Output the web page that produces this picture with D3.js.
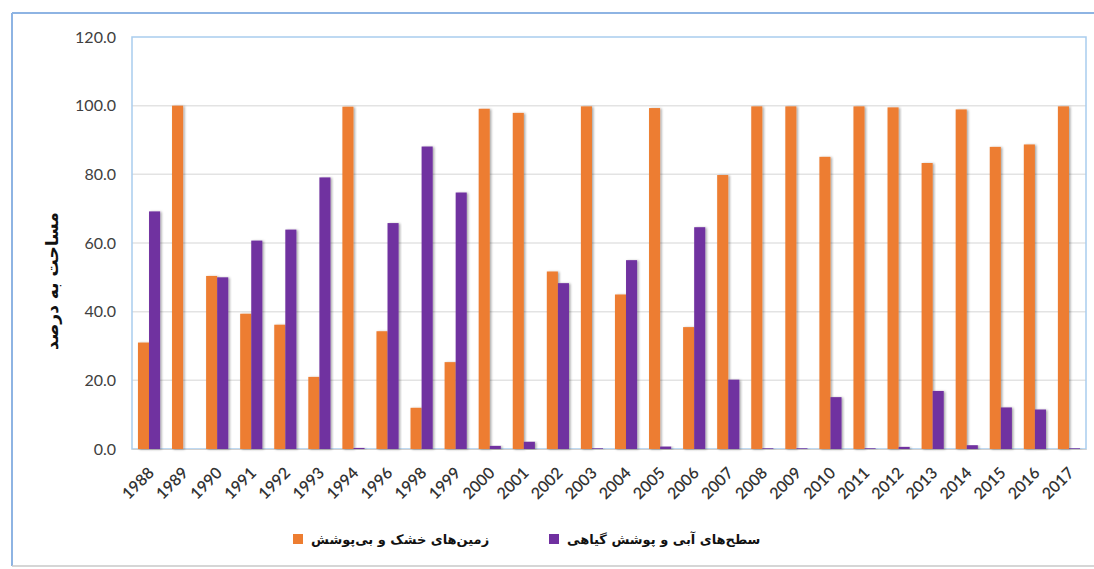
<!DOCTYPE html>
<html>
<head>
<meta charset="utf-8">
<script src="https://cdn.jsdelivr.net/npm/d3@7"></script>
<style>
  body { margin: 0; background: #fff; }
  svg { display: block; }
</style>
</head>
<body>
<div id="chart"></div>
<script>
// years on the x axis (1995 and 1997 are missing in the source)
const years = ["1988","1989","1990","1991","1992","1993","1994","1996","1998","1999",
  "2000","2001","2002","2003","2004","2005","2006","2007","2008","2009",
  "2010","2011","2012","2013","2014","2015","2016","2017"];

// dry and bare land (%)
const dryLand = [31, 100, 50.4, 39.4, 36.2, 21, 99.7, 34.3, 12, 25.3,
  99.1, 97.9, 51.7, 99.8, 45, 99.3, 35.5, 79.8, 99.8, 99.8,
  85.1, 99.8, 99.5, 83.3, 98.9, 88, 88.7, 99.8];

// water and vegetation (%)
const waterVeg = [69.2, 0, 50, 60.7, 63.9, 79.1, 0.3, 65.8, 88.1, 74.7,
  0.9, 2.1, 48.3, 0.2, 55, 0.7, 64.6, 20.2, 0.2, 0.2,
  15.1, 0.2, 0.6, 16.9, 1.1, 12.1, 11.5, 0.2];

const seriesNames = ["زمین‌های خشک و بی‌پوشش", "سطح‌های آبی و پوشش گیاهی"];
const seriesColors = ["#ED7D31", "#7030A0"];
const yTicks = [0, 20, 40, 60, 80, 100, 120];

const W = 1094, H = 569;
const plot = {left: 132, right: 1086, top: 37, bottom: 449};

const svg = d3.select("#chart").append("svg")
    .attr("width", W)
    .attr("height", H);

const defs = svg.append("defs");
defs.append("filter").attr("id", "shadow")
    .attr("x", "-30%").attr("y", "-5%").attr("width", "160%").attr("height", "110%")
  .append("feDropShadow")
    .attr("dx", 1.5).attr("dy", 0.5)
    .attr("stdDeviation", 1)
    .attr("flood-color", "#000")
    .attr("flood-opacity", 0.35);

// outer chart frame
svg.append("line").attr("x1", 12).attr("x2", W).attr("y1", 13).attr("y2", 13)
    .attr("stroke", "#8eb4e3").attr("stroke-width", 2);
svg.append("line").attr("x1", 12).attr("x2", 12).attr("y1", 13).attr("y2", 566)
    .attr("stroke", "#8eb4e3").attr("stroke-width", 2);
svg.append("line").attr("x1", 12).attr("x2", W).attr("y1", 566).attr("y2", 566)
    .attr("stroke", "#c8c8c8").attr("stroke-width", 1.5);

const x = d3.scaleBand()
    .domain(years)
    .range([plot.left, plot.right])
    .paddingInner(0.35)
    .paddingOuter(0.175);

const xs = d3.scaleBand()
    .domain([0, 1])
    .range([0, x.bandwidth()]);

const y = d3.scaleLinear()
    .domain([0, 120])
    .range([plot.bottom, plot.top]);

// gridlines
svg.append("g")
  .selectAll("line")
  .data(yTicks.slice(1, -1))
  .join("line")
    .attr("x1", plot.left).attr("x2", plot.right)
    .attr("y1", d => y(d)).attr("y2", d => y(d))
    .attr("stroke", "#e3e3e3")
    .attr("stroke-width", 1.5);

// plot area border
svg.append("rect")
    .attr("x", plot.left).attr("y", plot.top)
    .attr("width", plot.right - plot.left)
    .attr("height", plot.bottom - plot.top)
    .attr("fill", "none")
    .attr("stroke", "#a9cdee")
    .attr("stroke-width", 1.5);

// y axis
const yAxis = svg.append("g")
    .attr("transform", "translate(" + plot.left + ",0)")
    .call(d3.axisLeft(y).tickValues(yTicks).tickFormat(d3.format(".1f")).tickSize(0).tickPadding(16));
yAxis.select(".domain").remove();
yAxis.selectAll("text")
    .attr("font-family", "Lato, 'Liberation Sans', sans-serif")
    .attr("font-size", 16)
    .attr("fill", "#404040");

// x axis
const xAxis = svg.append("g")
    .attr("transform", "translate(0," + plot.bottom + ")")
    .call(d3.axisBottom(x).tickSize(0).tickPadding(0));
xAxis.select(".domain")
    .attr("stroke", "#d0d0d0");
xAxis.selectAll("text")
    .attr("font-family", "Lato, 'Liberation Sans', sans-serif")
    .attr("font-size", 16)
    .attr("font-weight", 600)
    .attr("fill", "#333")
    .attr("text-anchor", "end")
    .attr("dy", 0)
    .attr("transform", "translate(6,25) rotate(-45)");

// bars
const data = years.map((yr, i) => ({year: yr, values: [dryLand[i], waterVeg[i]]}));

const groups = svg.append("g")
  .selectAll("g")
  .data(data)
  .join("g")
    .attr("transform", d => "translate(" + x(d.year) + ",0)");

groups.selectAll("rect")
  .data(d => d.values.map((v, k) => ({k, v})))
  .join("rect")
    .attr("x", d => xs(d.k))
    .attr("width", xs.bandwidth())
    .attr("y", d => y(d.v))
    .attr("height", d => y(0) - y(d.v))
    .attr("fill", d => seriesColors[d.k])
    .attr("filter", "url(#shadow)");

// y axis title
svg.append("text")
    .attr("transform", "translate(58,281) rotate(-90)")
    .attr("text-anchor", "middle")
    .attr("font-family", "'DejaVu Sans', sans-serif")
    .attr("font-size", 17)
    .attr("font-weight", "bold")
    .attr("fill", "#111")
    .text("مساحت به درصد");

// legend
const legendX = [293, 549];
const legend = svg.append("g")
  .selectAll("g")
  .data(seriesNames)
  .join("g")
    .attr("transform", (d, i) => "translate(" + legendX[i] + ",534)");

legend.append("rect")
    .attr("width", 10).attr("height", 10)
    .attr("fill", (d, i) => seriesColors[i]);

legend.append("text")
    .attr("x", 18)
    .attr("y", 10)
    .attr("font-family", "'DejaVu Sans', sans-serif")
    .attr("font-size", 13)
    .attr("font-weight", "bold")
    .attr("fill", "#111")
    .text(d => d);
</script>
</body>
</html>
